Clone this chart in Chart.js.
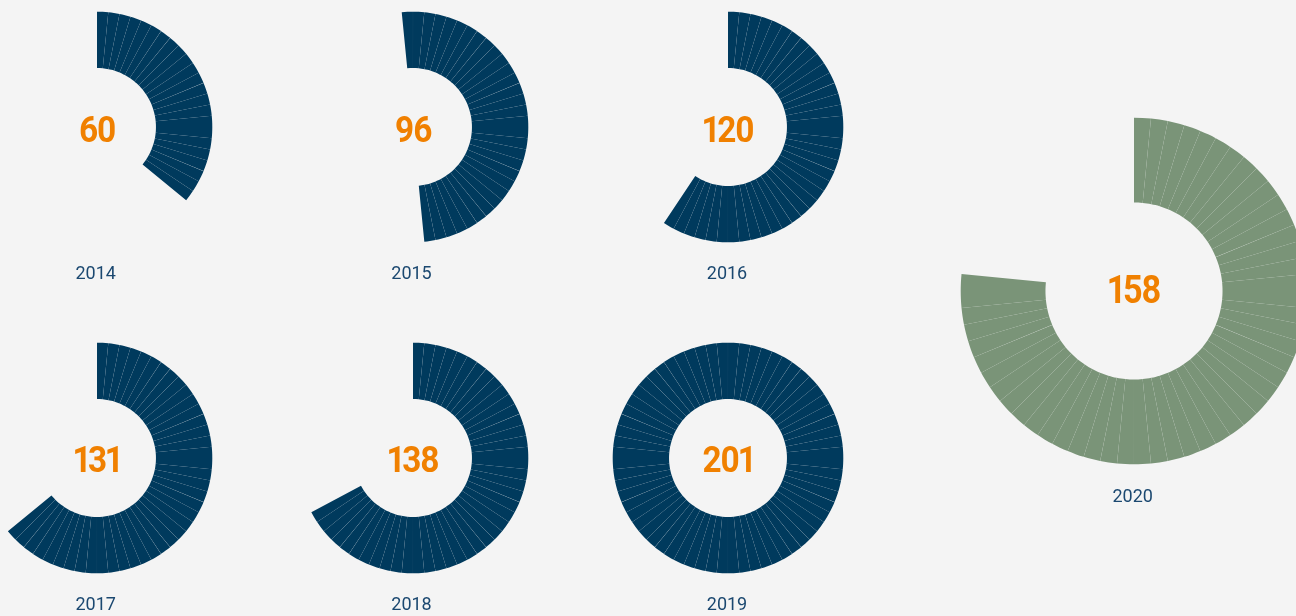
<!DOCTYPE html>
<html>
<head>
<meta charset="utf-8">
<script src="https://cdn.jsdelivr.net/npm/chart.js@4.4.1/dist/chart.umd.min.js"></script>
<style>
  html, body { margin:0; padding:0; width:1296px; height:616px; overflow:hidden; background:#f4f4f4; }
  .wrap { position:absolute; }
  .wrap canvas { position:absolute; left:0; top:0; }
  .num { position:absolute; font-family: Roboto, "Liberation Sans", sans-serif; font-weight:700; color:#f08000;
         text-align:center; white-space:nowrap; letter-spacing:-1.5px; transform:translate(-50%,-50%) scaleX(0.9); line-height:1;
         font-variant-numeric: proportional-nums; font-feature-settings: "pnum" 1; }
  .yr { position:absolute; font-family: Roboto, "Open Sans", sans-serif; font-weight:400; color:#1b4870;
        text-align:center; white-space:nowrap; transform:translate(-50%,-50%); line-height:1; font-size:18px; }
</style>
</head>
<body>
<script>
// ---- data ----
const years = ['2014', '2015', '2016', '2017', '2018', '2019', '2020'];
const totals = [60, 96, 120, 131, 138, 201, 158];
const segments = [23, 32, 38, 41, 43, 64, 49];
const segmentsPerCircle = 64;

// ---- layout (positions / styles) ----
const layout = [
  {cx: 96.7,  cy: 126.7, r: 115, cut: '51%', rot: 0,       color: '#003a5d', ny: 129, yy: 273, fs: 37},
  {cx: 412.5, cy: 126.7, r: 115, cut: '51%', rot: -5.625,  color: '#003a5d', ny: 129, yy: 273, fs: 37},
  {cx: 728,   cy: 126.7, r: 115, cut: '51%', rot: 0,       color: '#003a5d', ny: 129, yy: 273, fs: 37},
  {cx: 96.7,  cy: 457.5, r: 115, cut: '51%', rot: 0,       color: '#003a5d', ny: 459, yy: 604, fs: 37},
  {cx: 412.5, cy: 457.5, r: 115, cut: '51%', rot: 0,       color: '#003a5d', ny: 459, yy: 604, fs: 37},
  {cx: 728,   cy: 457.5, r: 115, cut: '51%', rot: 0,       color: '#003a5d', ny: 459, yy: 604, fs: 37},
  {cx: 1133.7,cy: 291,   r: 173, cut: '51%', rot: 0,       color: '#7a9478', ny: 290, yy: 496, fs: 38}
];

years.forEach((yr, i) => {
  const L = layout[i];
  const size = Math.ceil(L.r * 2 + 8);
  const wrap = document.createElement('div');
  wrap.className = 'wrap';
  wrap.style.left = (L.cx - size / 2) + 'px';
  wrap.style.top = (L.cy - size / 2) + 'px';
  wrap.style.width = size + 'px';
  wrap.style.height = size + 'px';
  const cv = document.createElement('canvas');
  cv.width = size; cv.height = size;
  cv.style.width = size + 'px'; cv.style.height = size + 'px';
  wrap.appendChild(cv);
  document.body.appendChild(wrap);

  const n = segments[i];
  const data = Array(n).fill(1);
  const colors = Array(n).fill(L.color);
  if (segmentsPerCircle - n > 0) { data.push(segmentsPerCircle - n); colors.push('rgba(0,0,0,0)'); }

  new Chart(cv, {
    type: 'doughnut',
    data: {
      labels: data.map((_, k) => String(k)),
      datasets: [{ data: data, backgroundColor: colors, borderWidth: 0, hoverOffset: 0 }]
    },
    options: {
      responsive: false,
      animation: false,
      radius: L.r,
      cutout: L.cut,
      rotation: L.rot,
      spacing: 0.6,
      events: [],
      layout: { padding: 0 },
      plugins: { legend: { display: false }, tooltip: { enabled: false } }
    }
  });

  const num = document.createElement('div');
  num.className = 'num';
  num.style.left = L.cx + 'px';
  num.style.top = L.ny + 'px';
  num.style.fontSize = L.fs + 'px';
  num.textContent = String(totals[i]);
  document.body.appendChild(num);

  const y = document.createElement('div');
  y.className = 'yr';
  y.style.left = (L.cx - 1) + 'px';
  y.style.top = L.yy + 'px';
  y.textContent = yr;
  document.body.appendChild(y);
});
</script>
</body>
</html>
